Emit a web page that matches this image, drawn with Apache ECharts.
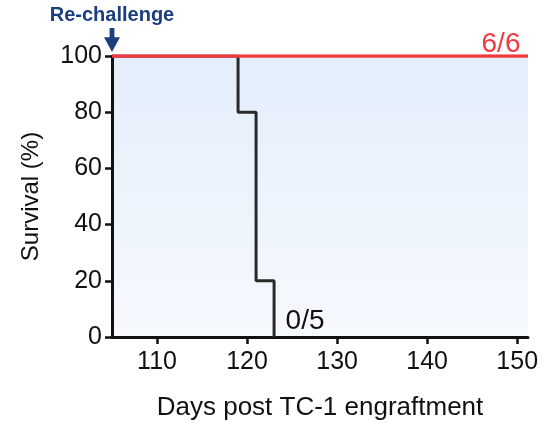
<!DOCTYPE html>
<html>
<head>
<meta charset="utf-8">
<script src="https://cdn.jsdelivr.net/npm/echarts@6/dist/echarts.min.js"></script>
<style>
html, body { margin: 0; padding: 0; background: #fff; }
#chart { width: 547px; height: 423px; }
</style>
</head>
<body>
<div id="chart"></div>
<script>
// survival curves (day, % surviving)
var rechallenged = [[105, 100], [151.2, 100]];
var naive = [[105, 100], [119, 80], [121, 20], [123, 0]];
var xTicks = [110, 120, 130, 140, 150];
var yTicks = [0, 20, 40, 60, 80, 100];

var font = 'Arial, "Liberation Sans", sans-serif';

var chart = echarts.init(document.getElementById('chart'));

var option = {
    backgroundColor: '#fff',
    animation: false,
    grid: {
        left: 112, right: 19, top: 56, bottom: 86,
        outerBoundsMode: 'none',
        containLabel: false,
        show: true,
        borderWidth: 0,
        backgroundColor: new echarts.graphic.LinearGradient(0, 0, 0, 1, [
            { offset: 0, color: '#e3eefb' },
            { offset: 1, color: '#f6f9fe' }
        ])
    },
    xAxis: {
        type: 'value',
        min: 105,
        max: 151.2,
        interval: 10,
        name: 'Days post TC-1 engraftment',
        nameLocation: 'middle',
        nameGap: 58,
        nameTextStyle: { fontFamily: font, fontSize: 26, color: '#111' },
        splitLine: { show: false },
        axisLine: { lineStyle: { color: '#111', width: 3 } },
        axisTick: { length: 7, lineStyle: { color: '#111', width: 2.5 }, customValues: xTicks },
        axisLabel: {
            fontFamily: font, fontSize: 25, color: '#111', margin: 13,
            customValues: xTicks
        }
    },
    yAxis: {
        type: 'value',
        min: 0,
        max: 100,
        interval: 20,
        name: 'Survival (%)',
        nameLocation: 'middle',
        nameGap: 69,
        nameTextStyle: { fontFamily: font, fontSize: 24, color: '#111' },
        splitLine: { show: false },
        axisLine: { show: true, lineStyle: { color: '#111', width: 3 } },
        axisTick: { show: true, length: 7, lineStyle: { color: '#111', width: 2.5 } },
        axisLabel: { fontFamily: font, fontSize: 25, color: '#111', margin: 10 }
    },
    series: [
        {
            name: 'naive',
            type: 'line',
            step: 'end',
            data: naive,
            symbol: 'none',
            z: 2,
            lineStyle: { color: '#2a2a2a', width: 3 },
            markPoint: {
                symbolSize: 0,
                data: [{ coord: [123, 0], value: '0/5' }],
                label: {
                    formatter: '0/5', fontFamily: font, fontSize: 28, color: '#111',
                    offset: [31, -16]
                }
            }
        },
        {
            name: 'rechallenged',
            type: 'line',
            data: rechallenged,
            symbol: 'none',
            lineStyle: { color: '#f2393f', width: 3.5 },
            z: 6,
            markPoint: {
                data: [
                    {
                        coord: [105, 100],
                        symbol: 'path://M3.5,0 L6.5,0 L6.5,7 L10,7 L5,18 L0,7 L3.5,7 Z',
                        symbolSize: [16, 24],
                        symbolOffset: [0, -16],
                        itemStyle: { color: '#1b3f7c' },
                        label: {
                            show: true, position: 'top', distance: 3,
                            formatter: 'Re-challenge',
                            fontFamily: font, fontSize: 20, fontWeight: 'bold', color: '#1b3f7c'
                        }
                    },
                    {
                        coord: [151.2, 100],
                        symbolSize: 0,
                        label: {
                            show: true, formatter: '6/6',
                            fontFamily: font, fontSize: 28, color: '#f2393f',
                            offset: [-27, -12]
                        }
                    }
                ]
            }
        }
    ]
};

chart.setOption(option);
</script>
</body>
</html>
